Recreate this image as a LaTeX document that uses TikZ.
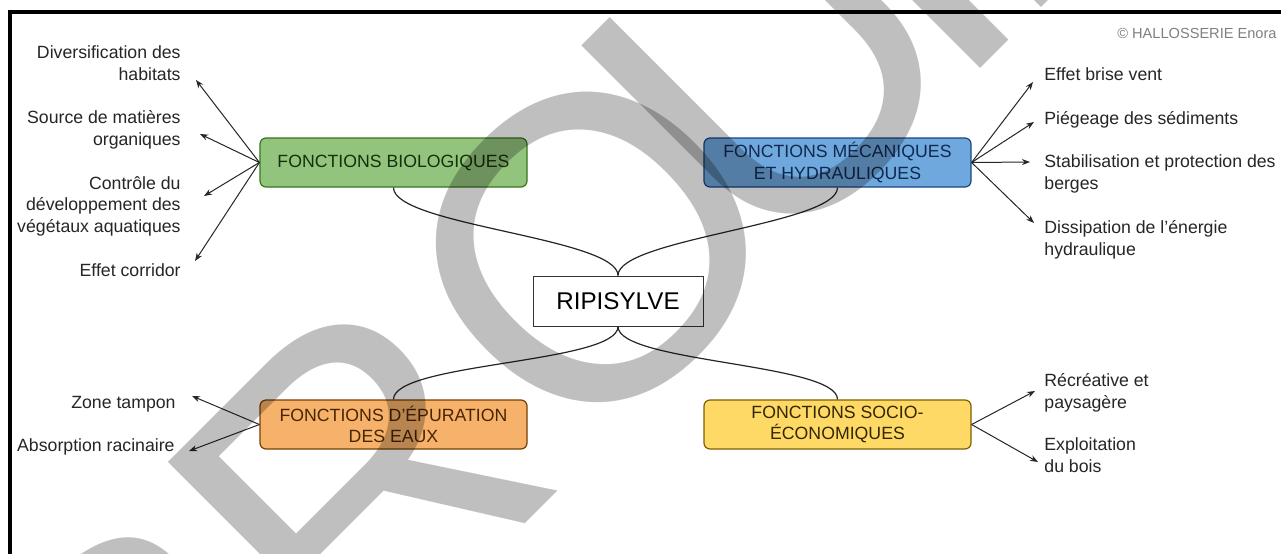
\documentclass[tikz,border=0pt]{standalone}
\usepackage{fontspec}
\setmainfont{Liberation Sans}
\usetikzlibrary{arrows.meta,positioning}

\definecolor{bioFond}{HTML}{93C47D}
\definecolor{bioTrait}{HTML}{38761D}
\definecolor{mecaFond}{HTML}{6FA8DC}
\definecolor{mecaTrait}{HTML}{1C4587}
\definecolor{epurFond}{HTML}{F6B26B}
\definecolor{epurTrait}{HTML}{783F04}
\definecolor{socioFond}{HTML}{FFD966}
\definecolor{socioTrait}{HTML}{7F6000}

\begin{document}
\begin{tikzpicture}[x=0.5pt,y=-0.5pt,
    fonction/.style={draw,rounded corners=3pt,line width=0.6pt,minimum width=133.5pt,minimum height=24.5pt,
      align=center,inner sep=0pt,font=\fontsize{8.85}{10.75}\selectfont},
    feuille/.style={inner sep=0pt,font=\fontsize{8.85}{10.75}\selectfont,text=black!85},
    fleche/.style={-{Stealth[length=4pt,width=3pt]},line width=0.5pt,black!85},
    lien/.style={line width=0.6pt,black!85},
    filigrane/.style={rotate=45,inner sep=0pt,text=black,text opacity=.25,font=\fontsize{215}{215}\selectfont}]
  \useasboundingbox (0,0) rectangle (1281,553);
  \fill[white] (0,0) rectangle (1281,553);
  \draw[line width=1.6pt] (10,560) -- (10,12) -- (1290,12);

  \node[fonction,fill=bioFond,draw=bioTrait,text=bioTrait!40!black] (bio) at (393.5,162.5) {FONCTIONS BIOLOGIQUES};
  \node[fonction,fill=mecaFond,draw=mecaTrait,text=mecaTrait!60!black] (meca) at (837.5,162.5) {FONCTIONS MÉCANIQUES\\ET HYDRAULIQUES};
  \node[fonction,fill=epurFond,draw=epurTrait,text=epurTrait!60!black] (epur) at (393.5,424.5) {FONCTIONS D'ÉPURATION\\DES EAUX};
  \node[fonction,fill=socioFond,draw=socioTrait,text=socioTrait!40!black] (socio) at (837.5,424.5) {FONCTIONS SOCIO-\\ÉCONOMIQUES};

  \node[draw=black!80,line width=0.5pt,minimum width=85pt,minimum height=25pt,inner sep=0pt,font=\fontsize{12.1}{14}\selectfont] (ripi) at (618,301) {RIPISYLVE};

  \draw[lien] (bio.south) to[out=-90,in=90,looseness=.4] (ripi.north);
  \draw[lien] (meca.south) to[out=-90,in=90,looseness=.4] (ripi.north);
  \draw[lien] (epur.north) to[out=90,in=-90,looseness=.4] (ripi.south);
  \draw[lien] (socio.north) to[out=90,in=-90,looseness=.4] (ripi.south);

  % biologiques
  \node[feuille,anchor=base east,align=right] (habitats) at (181,80) {Diversification des\\habitats};
  \node[feuille,anchor=base east,align=right] (matieres) at (181,145) {Source de matières\\organiques};
  \node[feuille,anchor=base east,align=right] (controle) at (181,232) {Contrôle du\\développement des\\végétaux aquatiques};
  \node[feuille,anchor=base east,align=right] (corridor) at (181,276) {Effet corridor};
  \coordinate (pHabitats) at (196,80);
  \coordinate (pMatieres) at (200,134);
  \coordinate (pControle) at (204,196);
  \coordinate (pCorridor) at (195,261);
  \foreach \p in {pHabitats,pMatieres,pControle,pCorridor}
    \draw[fleche] (bio.west) -- (\p);

  % mecaniques
  \node[feuille,anchor=base west,align=left] (briseVent) at (1044,80) {Effet brise vent};
  \node[feuille,anchor=base west,align=left] (sediments) at (1044,124) {Piégeage des sédiments};
  \node[feuille,anchor=base west,align=left] (berges) at (1044,189) {Stabilisation et protection des\\berges};
  \node[feuille,anchor=base west,align=left] (energie) at (1044,255) {Dissipation de l'énergie\\hydraulique};
  \coordinate (pBriseVent) at (1033,82);
  \coordinate (pSediments) at (1034,122);
  \coordinate (pBerges) at (1030,162);
  \coordinate (pEnergie) at (1034,223);
  \foreach \p in {pBriseVent,pSediments,pBerges,pEnergie}
    \draw[fleche] (meca.east) -- (\p);

  % epuration
  \node[feuille,anchor=base east] (tampon) at (176,408) {Zone tampon};
  \node[feuille,anchor=base east] (racinaire) at (175,451) {Absorption racinaire};
  \coordinate (pTampon) at (192,396);
  \coordinate (pRacinaire) at (189,451);
  \draw[fleche] (epur.west) -- (pTampon);
  \draw[fleche] (epur.west) -- (pRacinaire);

  % socio-economiques
  \node[feuille,anchor=base west,align=left] (recreative) at (1044,408) {Récréative et\\paysagère};
  \node[feuille,anchor=base west,align=left] (bois) at (1044,472) {Exploitation\\du bois};
  \coordinate (pRecreative) at (1035,391);
  \coordinate (pBois) at (1038,462);
  \draw[fleche] (socio.east) -- (pRecreative);
  \draw[fleche] (socio.east) -- (pBois);

  \node[anchor=base east,inner sep=0pt,font=\fontsize{7.3}{8}\selectfont,text=black!50] (credit) at (1277,38) {© HALLOSSERIE Enora};

  % filigrane
  \foreach \lettre/\u [count=\i] in {B/-1.44,R/-0.77,O/0,U/0.60,I/0.98,L/1.33}
    \node[filigrane] (lettre\i) at ({592+304*\u},{248-304*\u}) {\lettre};
\end{tikzpicture}
\end{document}
